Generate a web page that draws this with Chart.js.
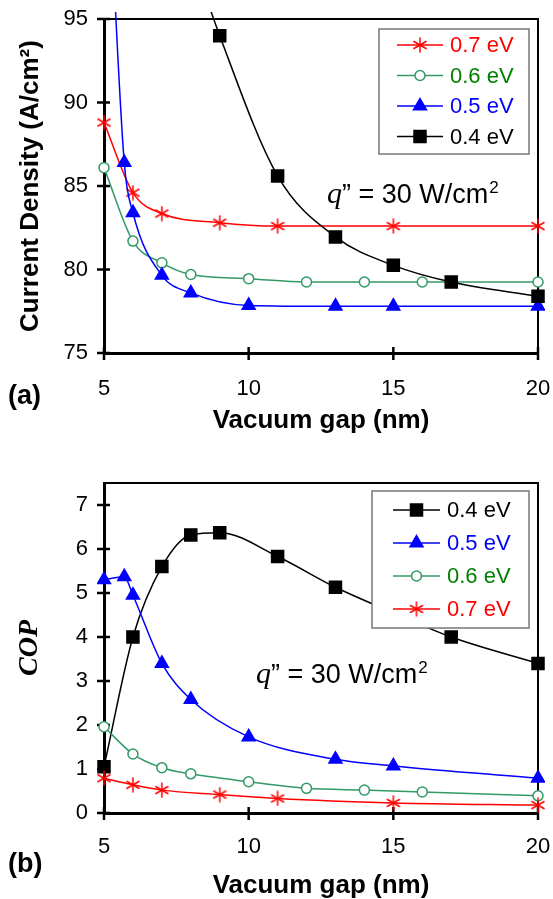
<!DOCTYPE html>
<html>
<head>
<meta charset="utf-8">
<script src="https://cdn.jsdelivr.net/npm/chart.js@4.4.1/dist/chart.umd.min.js"></script>
<style>
html, body { margin: 0; padding: 0; background: #fff; }
#wrap { position: relative; width: 553px; height: 899px; }
canvas { position: absolute; left: 0; }
#chartA { top: 0; }
#chartB { top: 450px; }
</style>
</head>
<body>
<div id="wrap">
  <canvas id="chartA" width="553" height="450"></canvas>
  <canvas id="chartB" width="553" height="449"></canvas>
</div>
<script>
// ---- data ----
const xTicks = [5, 10, 15, 20];
const yTicksA = [75, 80, 85, 90, 95];
const yTicksB = [0, 1, 2, 3, 4, 5, 6, 7];

// vacuum gap (nm) for each series
const gap07 = [5, 6, 7, 9, 11, 15, 20];
const gap06 = [5, 6, 7, 8, 10, 12, 14, 16, 20];
const gap05 = [5, 5.7, 6, 7, 8, 10, 13, 15, 20];
const gap04A = [8, 9, 11, 13, 15, 17, 20];
const gap04B = [5, 6, 7, 8, 9, 11, 13, 15, 17, 20];

// (a) current density, A/cm2
const jd07 = [88.8, 84.6, 83.35, 82.8, 82.6, 82.6, 82.6];
const jd06 = [86.1, 81.7, 80.4, 79.7, 79.45, 79.25, 79.25, 79.25, 79.25];
const jd05 = [110, 86.4, 83.4, 79.65, 78.6, 77.85, 77.8, 77.8, 77.8];
const jd04 = [99, 94, 85.6, 81.95, 80.25, 79.25, 78.4];

// (b) COP
const cop04 = [1.05, 4.0, 5.6, 6.32, 6.37, 5.83, 5.13, 4.55, 4.0, 3.4];
const cop05 = [5.3, 5.37, 4.95, 3.4, 2.58, 1.73, 1.22, 1.07, 0.79];
const cop06 = [1.96, 1.34, 1.03, 0.89, 0.71, 0.56, 0.52, 0.48, 0.39];
const cop07 = [0.79, 0.64, 0.52, 0.42, 0.33, 0.23, 0.18];

const FONT = "'Liberation Sans', Arial, sans-serif";
Chart.defaults.font.family = FONT;
Chart.defaults.color = '#000';

// six-ray asterisk marker
function makeAsterisk(color) {
    const c = document.createElement('canvas');
    c.width = 16; c.height = 16;
    const g = c.getContext('2d');
    g.strokeStyle = color;
    g.lineWidth = 1.5;
    g.lineCap = 'round';
    [90, 30, 150].forEach(deg => {
        const a = deg * Math.PI / 180;
        g.beginPath();
        g.moveTo(8 - Math.cos(a) * 7, 8 - Math.sin(a) * 7);
        g.lineTo(8 + Math.cos(a) * 7, 8 + Math.sin(a) * 7);
        g.stroke();
    });
    return c;
}
const asterisk = makeAsterisk('#ff0000');

const styles = {
    e07: { label: '0.7 eV', color: '#ff0000', text: '#ff0000', pointStyle: asterisk, radius: 7, fill: '#ff0000' },
    e06: { label: '0.6 eV', color: '#339966', text: '#008000', pointStyle: 'circle', radius: 5, fill: '#ffffff' },
    e05: { label: '0.5 eV', color: '#0000ff', text: '#0000ff', pointStyle: 'triangle', radius: 7.5, fill: '#0000ff' },
    e04: { label: '0.4 eV', color: '#000000', text: '#000000', pointStyle: 'rect', radius: 8.5, fill: '#000000' }
};

function series(key, xs, ys) {
    const s = styles[key];
    return {
        label: s.label,
        key: key,
        data: xs.map((x, i) => ({ x: x, y: ys[i] })),
        borderColor: s.color,
        borderWidth: 1.5,
        cubicInterpolationMode: 'monotone',
        pointStyle: s.pointStyle,
        pointRadius: s.radius,
        pointBackgroundColor: s.fill,
        pointBorderColor: s.color,
        pointBorderWidth: 1.5,
        clip: 7
    };
}

function drawMarker(ctx, key, x, y) {
    const s = styles[key];
    if (s.pointStyle instanceof HTMLCanvasElement) {
        ctx.drawImage(s.pointStyle, x - 8, y - 8);
        return;
    }
    ctx.fillStyle = s.fill;
    ctx.strokeStyle = s.color;
    ctx.lineWidth = 1.5;
    ctx.beginPath();
    if (s.pointStyle === 'circle') {
        ctx.arc(x, y, 5, 0, Math.PI * 2);
    } else if (s.pointStyle === 'triangle') {
        const r = 7.5;
        ctx.moveTo(x, y - r);
        ctx.lineTo(x + r * 0.866, y + r / 2);
        ctx.lineTo(x - r * 0.866, y + r / 2);
        ctx.closePath();
    } else {
        ctx.rect(x - 6, y - 6, 12, 12);
    }
    ctx.fill();
    ctx.stroke();
}

// frame + crossing tick marks, drawn under the data
const framePlugin = {
    id: 'frame',
    beforeDatasetsDraw(chart) {
        const { ctx, chartArea: a, scales: { x, y } } = chart;
        ctx.save();
        ctx.strokeStyle = '#000';
        ctx.lineWidth = 2;
        ctx.beginPath();
        ctx.moveTo(a.left, a.top);
        ctx.lineTo(a.right, a.top);
        ctx.lineTo(a.right, a.bottom);
        ctx.stroke();
        ctx.lineWidth = 2.5;
        ctx.beginPath();
        y.ticks.forEach(t => {
            const py = y.getPixelForValue(t.value);
            ctx.moveTo(a.left - 7, py);
            ctx.lineTo(a.left + 6, py);
        });
        x.ticks.forEach(t => {
            const px = x.getPixelForValue(t.value);
            ctx.moveTo(px, a.bottom - 6);
            ctx.lineTo(px, a.bottom + 7);
        });
        ctx.stroke();
        ctx.restore();
    }
};

// legend box, note and panel letter drawn over the data
const notesPlugin = {
    id: 'notes',
    afterDatasetsDraw(chart, args, opts) {
        const ctx = chart.ctx;
        const b = opts.box;
        ctx.save();
        ctx.fillStyle = '#fff';
        ctx.fillRect(b.x, b.y, b.w, b.h);
        ctx.strokeStyle = '#777';
        ctx.lineWidth = 1.5;
        ctx.strokeRect(b.x, b.y, b.w, b.h);
        ctx.textBaseline = 'middle';
        ctx.font = '22px ' + FONT;
        opts.order.forEach((key, i) => {
            const s = styles[key];
            const ry = b.rowY + i * b.rowGap;
            ctx.strokeStyle = s.color;
            ctx.lineWidth = 1.5;
            ctx.beginPath();
            ctx.moveTo(b.lineX0, ry);
            ctx.lineTo(b.lineX1, ry);
            ctx.stroke();
            drawMarker(ctx, key, (b.lineX0 + b.lineX1) / 2, ry);
            ctx.fillStyle = s.text;
            ctx.font = '22px ' + FONT;
            ctx.fillText(s.label, b.textX, ry + 1);
        });

        // q" = 30 W/cm2
        ctx.fillStyle = '#000';
        ctx.textBaseline = 'alphabetic';
        let qx = opts.note.x;
        const qb = opts.note.y;
        ctx.font = "italic 30px 'Liberation Serif', serif";
        ctx.fillText('q', qx, qb);
        qx += ctx.measureText('q').width;
        ctx.font = "27px " + FONT;
        ctx.fillText('\u201D = 30 W/cm', qx, qb);
        qx += ctx.measureText('\u201D = 30 W/cm').width;
        ctx.font = "17px " + FONT;
        ctx.fillText('2', qx + 1, qb - 10);

        // panel letter
        ctx.font = "bold 27px " + FONT;
        ctx.fillText(opts.letter.text, opts.letter.x, opts.letter.y);
        ctx.restore();
    }
};

function xScale(tickPad, titlePad, height) {
    return {
        type: 'linear',
        min: 5,
        max: 20,
        afterBuildTicks: s => { s.ticks = xTicks.map(v => ({ value: v })); },
        afterFit: s => { s.height = height; s.paddingLeft = 0; s.paddingRight = 0; },
        grid: { display: true, drawOnChartArea: false, drawTicks: false },
        border: { display: true, color: '#000', width: 3 },
        ticks: { padding: tickPad, font: { size: 22 }, color: '#000', maxRotation: 0 },
        title: {
            display: true,
            text: 'Vacuum gap (nm)',
            font: { size: 26, weight: 'bold', lineHeight: 1 },
            padding: { top: 0, bottom: titlePad },
            color: '#000'
        }
    };
}

function yScale(min, max, ticks, title, titleFont, titlePad) {
    return {
        type: 'linear',
        min: min,
        max: max,
        afterBuildTicks: s => { s.ticks = ticks.map(v => ({ value: v })); },
        afterFit: s => { s.width = 104; s.paddingTop = 0; s.paddingBottom = 0; },
        grid: { display: true, drawOnChartArea: false, drawTicks: false },
        border: { display: true, color: '#000', width: 3 },
        ticks: { padding: 16, font: { size: 22 }, color: '#000' },
        title: {
            display: true,
            text: title,
            font: titleFont,
            padding: { top: titlePad, bottom: 0 },
            color: '#000'
        }
    };
}

// empty spacer axes that reserve the margin above and right of the plot
function spacer(position, size) {
    const horiz = position === 'top';
    return {
        type: 'linear',
        position: position,
        min: 0,
        max: 1,
        grid: { display: false },
        border: { display: false },
        ticks: { display: false },
        title: { display: false },
        afterFit: s => {
            if (horiz) { s.height = size; } else { s.width = size; }
            s.paddingLeft = s.paddingRight = s.paddingTop = s.paddingBottom = 0;
        }
    };
}

const chartA = new Chart(document.getElementById('chartA'), {
    type: 'line',
    data: {
        datasets: [
            series('e04', gap04A, jd04),
            series('e05', gap05, jd05),
            series('e06', gap06, jd06),
            series('e07', gap07, jd07)
        ]
    },
    options: {
        responsive: false,
        animation: false,
        layout: { padding: 0 },
        scales: {
            x: xScale(23, 16, 97),
            y: yScale(75, 95, yTicksA, 'Current Density (A/cm\u00B2)', { size: 26, weight: 'bold', lineHeight: 1 }, 18),
            xTop: spacer('top', 19),
            yRight: spacer('right', 15)
        },
        plugins: {
            legend: { display: false },
            tooltip: { enabled: false },
            notes: {
                box: { x: 379, y: 29, w: 150, h: 125, lineX0: 397, lineX1: 443, textX: 450, rowY: 45, rowGap: 30.5 },
                order: ['e07', 'e06', 'e05', 'e04'],
                note: { x: 327, y: 203 },
                letter: { text: '(a)', x: 8, y: 404 }
            }
        }
    },
    plugins: [framePlugin, notesPlugin]
});

const chartB = new Chart(document.getElementById('chartB'), {
    type: 'line',
    data: {
        datasets: [
            series('e07', gap07, cop07),
            series('e06', gap06, cop06),
            series('e05', gap05, cop05),
            series('e04', gap04B, cop04)
        ]
    },
    options: {
        responsive: false,
        animation: false,
        layout: { padding: 0 },
        scales: {
            x: xScale(21, 0, 86),
            y: yScale(0, 7.5, yTicksB, 'COP',
                { family: "'Liberation Serif', serif", style: 'italic', size: 28, weight: 'bold', lineHeight: 1 }, 16),
            xTop: spacer('top', 33),
            yRight: spacer('right', 15)
        },
        plugins: {
            legend: { display: false },
            tooltip: { enabled: false },
            notes: {
                box: { x: 372, y: 41, w: 157, h: 137, lineX0: 393, lineX1: 440, textX: 447, rowY: 60, rowGap: 33 },
                order: ['e04', 'e05', 'e06', 'e07'],
                note: { x: 256, y: 233 },
                letter: { text: '(b)', x: 8, y: 422 }
            }
        }
    },
    plugins: [framePlugin, notesPlugin]
});
</script>
</body>
</html>
